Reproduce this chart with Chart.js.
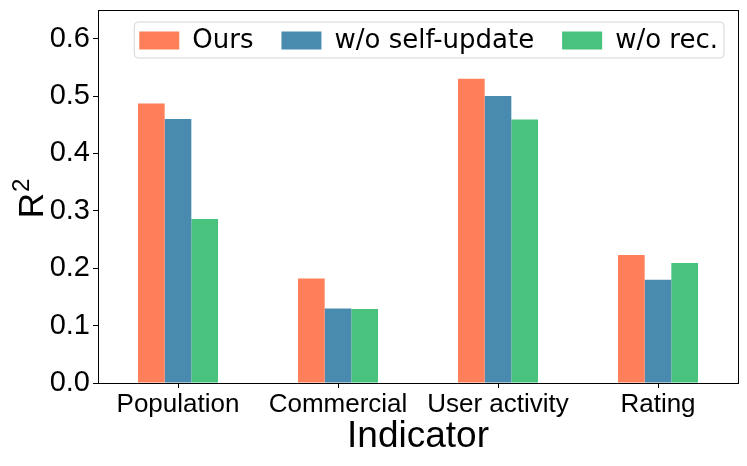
<!DOCTYPE html>
<html>
<head>
<meta charset="utf-8">
<script src="https://cdn.jsdelivr.net/npm/chart.js@4/dist/chart.umd.min.js"></script>
<style>
  html, body { margin: 0; padding: 0; background: #fff; }
  #wrap { width: 747px; height: 466px; position: relative; }
</style>
</head>
<body>
<div id="wrap"><canvas id="c"></canvas></div>
<script>
const categories = ['Population', 'Commercial', 'User activity', 'Rating'];
const seriesNames = ['Ours', 'w/o self-update', 'w/o rec.'];
const ours = [0.487, 0.182, 0.530, 0.223];
const woSelfUpdate = [0.460, 0.130, 0.500, 0.180];
const woRec = [0.286, 0.129, 0.459, 0.209];
const yTicks = [0.0, 0.1, 0.2, 0.3, 0.4, 0.5, 0.6];
const yTitleBase = 'R';
const yTitleSup = '2';
const colors = ['#FF7F5B', '#488BAE', '#48C27C'];

const SANS = '"Liberation Sans", Arial, sans-serif';
const DEJAVU = '"DejaVu Sans", sans-serif';

const framePlugin = {
  id: 'frame',
  afterDraw(chart) {
    const {ctx, chartArea: a} = chart;
    ctx.save();
    ctx.strokeStyle = '#000';
    ctx.lineWidth = 1;
    ctx.strokeRect(Math.round(a.left) + 0.5, Math.round(a.top) + 0.5,
                   Math.round(a.right - a.left), Math.round(a.bottom - a.top));
    ctx.restore();
  }
};

const yTitlePlugin = {
  id: 'yTitle',
  afterDraw(chart) {
    const {ctx, chartArea: a} = chart;
    ctx.save();
    const cy = (a.top + a.bottom) / 2;
    ctx.font = '35px ' + SANS;
    const wR = ctx.measureText(yTitleBase).width;
    ctx.font = '24px ' + SANS;
    const w2 = ctx.measureText(yTitleSup).width;
    const total = wR + 1 + w2;
    ctx.translate(43, cy + total / 2 + 2);
    ctx.rotate(-Math.PI / 2);
    ctx.fillStyle = '#000';
    ctx.textBaseline = 'alphabetic';
    ctx.textAlign = 'left';
    ctx.font = '35px ' + SANS;
    ctx.fillText(yTitleBase, 0, 0);
    ctx.font = '24px ' + SANS;
    ctx.fillText(yTitleSup, wR + 1, -14);
    ctx.restore();
  }
};

const legendPlugin = {
  id: 'boxLegend',
  afterDraw(chart) {
    const {ctx, chartArea: a} = chart;
    const ds = chart.data.datasets;
    ctx.save();
    ctx.font = '26px ' + DEJAVU;
    const sw = 40, sh = 18, gapText = 13, gapItem = 28, padL = 5, padR = 6;
    const widths = ds.map(d => ctx.measureText(d.label).width);
    let total = padL + padR;
    widths.forEach((w, i) => { total += sw + gapText + w + (i < widths.length - 1 ? gapItem : 0); });
    const right = 724;
    const left = right - total;
    const top = 22, bottom = 58;
    ctx.beginPath();
    const r = 4;
    ctx.moveTo(left + r, top);
    ctx.lineTo(right - r, top);
    ctx.quadraticCurveTo(right, top, right, top + r);
    ctx.lineTo(right, bottom - r);
    ctx.quadraticCurveTo(right, bottom, right - r, bottom);
    ctx.lineTo(left + r, bottom);
    ctx.quadraticCurveTo(left, bottom, left, bottom - r);
    ctx.lineTo(left, top + r);
    ctx.quadraticCurveTo(left, top, left + r, top);
    ctx.closePath();
    ctx.fillStyle = 'rgba(255,255,255,0.8)';
    ctx.fill();
    ctx.strokeStyle = '#d6d6d6';
    ctx.lineWidth = 1;
    ctx.stroke();
    let x = left + padL;
    const cy = (top + bottom) / 2;
    ds.forEach((d, i) => {
      ctx.fillStyle = d.backgroundColor;
      ctx.fillRect(x, cy - sh / 2 + 0.5, sw, sh);
      x += sw + gapText;
      ctx.fillStyle = '#000';
      ctx.textBaseline = 'middle';
      ctx.textAlign = 'left';
      ctx.fillText(d.label, x, cy + 1);
      x += widths[i] + gapItem;
    });
    ctx.restore();
  }
};

new Chart(document.getElementById('c'), {
  type: 'bar',
  data: {
    labels: categories,
    datasets: [
      { label: seriesNames[0], data: ours, backgroundColor: colors[0] },
      { label: seriesNames[1], data: woSelfUpdate, backgroundColor: colors[1] },
      { label: seriesNames[2], data: woRec, backgroundColor: colors[2] }
    ]
  },
  options: {
    responsive: true,
    maintainAspectRatio: false,
    animation: false,
    devicePixelRatio: 1,
    layout: { padding: { top: 10, right: 9, left: 0, bottom: 0 } },
    datasets: { bar: { categoryPercentage: 0.5, barPercentage: 1.0 } },
    plugins: { legend: { display: false }, tooltip: { enabled: false } },
    scales: {
      x: {
        afterFit(s) { s.height = 83; s.paddingLeft = 0; s.paddingRight = 0; },
        grid: { display: true, drawOnChartArea: false, drawTicks: true, tickLength: 5, color: '#000', offset: false },
        border: { display: true, color: '#000', width: 1 },
        ticks: { font: { family: SANS, size: 26 }, color: '#000', padding: 1, maxRotation: 0, autoSkip: false },
        title: { display: true, text: 'Indicator', font: { family: SANS, size: 37 }, color: '#000', padding: { top: 0, bottom: 7 } }
      },
      y: {
        min: 0, max: 0.65,
        afterFit(s) { s.width = 98; s.paddingTop = 0; s.paddingBottom = 0; },
        afterBuildTicks(s) { s.ticks = yTicks.map(v => ({ value: v })); },
        grid: { display: true, drawOnChartArea: false, drawTicks: true, tickLength: 5, color: '#000' },
        border: { display: true, color: '#000', width: 1 },
        ticks: { font: { family: SANS, size: 29 }, color: '#000', padding: 3, callback: v => Number(v).toFixed(1) },
        title: { display: false }
      }
    }
  },
  plugins: [framePlugin, legendPlugin, yTitlePlugin]
});
</script>
</body>
</html>
